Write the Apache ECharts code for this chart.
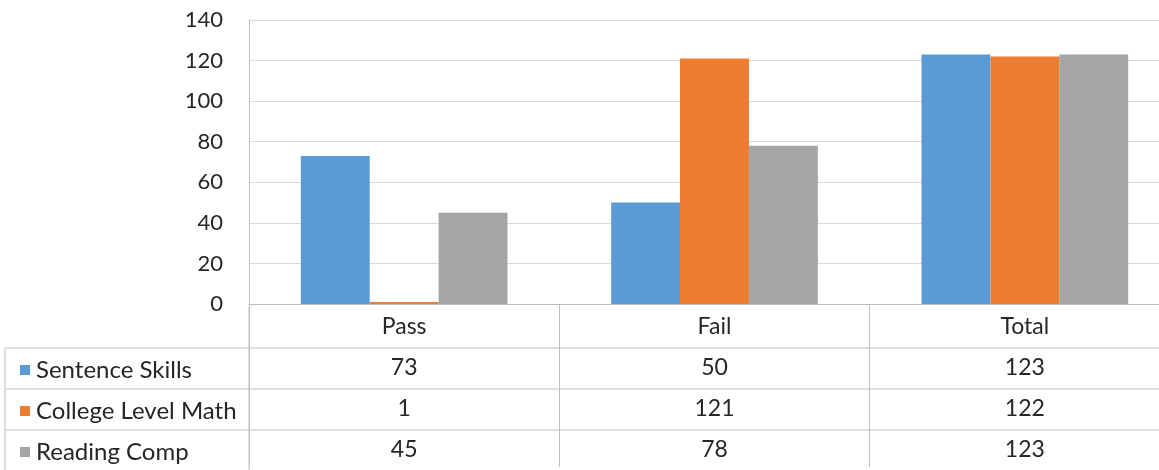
<!DOCTYPE html>
<html>
<head>
<meta charset="utf-8">
<script src="https://cdn.jsdelivr.net/npm/echarts@6/dist/echarts.min.js"></script>
<style>
  html, body { margin: 0; padding: 0; background: #fff; overflow: hidden; }
  #wrap { width: 1159px; height: 470px; overflow: hidden; position: relative; }
  /* plot area runs past the right edge of the window, as in the source */
  #chart { width: 1180px; height: 470px; position: absolute; left: 0; top: 0; }
</style>
</head>
<body>
<div id="wrap"><div id="chart"></div></div>
<script>
  // categories and series
  var categories = ['Pass', 'Fail', 'Total']
  var seriesNames = ['Sentence Skills', 'College Level Math', 'Reading Comp']
  var sentenceSkills = [73, 50, 123]
  var collegeMath = [1, 121, 122]
  var readingComp = [45, 78, 123]
  var yTicks = { min: 0, max: 140, interval: 20 }

  var colors = ['#5B9BD5', '#ED7D31', '#A5A5A5']
  var values = [sentenceSkills, collegeMath, readingComp]
  var font = 'Lato'
  var textColor = '#262626'
  var lineColor = '#BFBFBF'

  var myChart = echarts.init(document.getElementById('chart'))

  var series = []
  for (var i = 0; i < seriesNames.length; i++) {
    series.push({
      name: seriesNames[i],
      type: 'bar',
      data: values[i],
      itemStyle: { color: colors[i] },
      barGap: '0%',
      barCategoryGap: '33.4%'
    })
  }

  // one legend per table row
  var rowCenters = [369, 410, 451]
  var legends = []
  for (var j = 0; j < seriesNames.length; j++) {
    legends.push({
      orient: 'vertical',
      left: 15,
      top: rowCenters[j] - 16,
      icon: 'rect',
      itemWidth: 10,
      itemHeight: 10,
      selectedMode: false,
      textStyle: { fontFamily: font, fontSize: 24, color: textColor, lineHeight: 24, padding: [0, 0, 0, 1] },
      data: [seriesNames[j]]
    })
  }

  // data table lines
  var graphics = []
  var rowsY = [348, 389, 430]
  rowsY.forEach(function (y) {
    graphics.push({ type: 'line', shape: { x1: 5, y1: y, x2: 1180, y2: y }, style: { stroke: lineColor, lineWidth: 1 } })
  })
  graphics.push({ type: 'line', shape: { x1: 5, y1: 348, x2: 5, y2: 470 }, style: { stroke: lineColor, lineWidth: 1 } })
  graphics.push({ type: 'line', shape: { x1: 249, y1: 307, x2: 249, y2: 470 }, style: { stroke: lineColor, lineWidth: 1 } })

  var option = {
    animation: false,
    textStyle: { fontFamily: font },
    grid: { left: 249, top: 20, right: 0, bottom: 163, containLabel: false },
    legend: legends,
    xAxis: {
      type: 'category',
      data: categories,
      axisLine: { show: true, lineStyle: { color: lineColor } },
      axisTick: { show: true, length: 163, lineStyle: { color: lineColor } },
      axisLabel: {
        margin: 2,
        formatter: function (val, idx) {
          var s = '{h|' + val + '}'
          for (var k = 0; k < values.length; k++) s += '\n{v|' + values[k][idx] + '}'
          return s
        },
        rich: {
          h: { fontFamily: font, fontSize: 23, color: textColor, lineHeight: 41, height: 41 },
          v: { fontFamily: font, fontSize: 23, color: textColor, lineHeight: 41, height: 41 }
        }
      }
    },
    yAxis: {
      type: 'value',
      min: yTicks.min,
      max: yTicks.max,
      interval: yTicks.interval,
      axisLine: { show: true, lineStyle: { color: lineColor } },
      axisTick: { show: false },
      axisLabel: { margin: 26, fontFamily: font, fontSize: 22, color: textColor },
      splitLine: { lineStyle: { color: '#D9D9D9' } }
    },
    graphic: graphics,
    series: series
  }
  myChart.setOption(option, true)
</script>
</body>
</html>
